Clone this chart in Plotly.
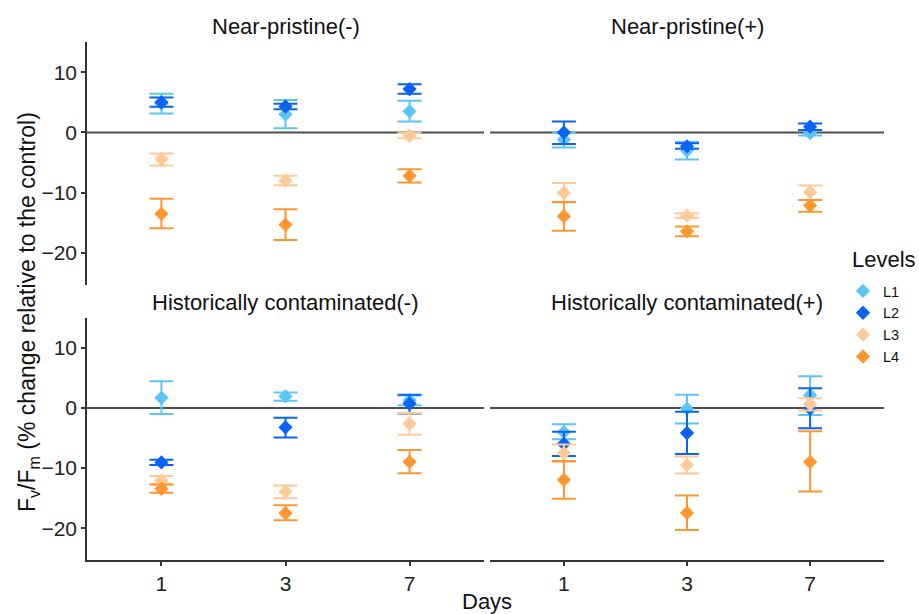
import plotly.graph_objects as go

W, H = 919, 614

days = ["1", "3", "7"]
levels = ["L1", "L2", "L3", "L4"]
colors = ["#5BC6F4", "#0B63F6", "#FFCA98", "#FF9630"]
panels = ["Near-pristine(-)", "Near-pristine(+)",
          "Historically contaminated(-)", "Historically contaminated(+)"]

# Near-pristine(-): mean, upper bar end, lower bar end per level
np_minus_mean = [[4.8, 3.0, 3.5], [5.0, 4.3, 7.2], [-4.4, -8.0, -0.55], [-13.5, -15.3, -7.2]]
np_minus_hi = [[6.4, 5.4, 5.25], [5.8, 4.75, 8.0], [-3.5, -7.2, -0.05], [-11.0, -12.75, -6.1]]
np_minus_lo = [[3.15, 0.7, 1.8], [4.25, 3.85, 6.4], [-5.5, -8.75, -0.95], [-15.9, -17.85, -8.3]]

# Near-pristine(+)
np_plus_mean = [[-1.2, -3.0, -0.1], [0.0, -2.3, 0.95], [-10.0, -13.8, -9.9], [-13.9, -16.4, -12.1]]
np_plus_hi = [[0.0, -1.6, 0.35], [1.8, -1.8, 1.5], [-8.4, -13.4, -8.8], [-11.55, -15.6, -11.2]]
np_plus_lo = [[-2.5, -4.5, -0.5], [-1.9, -2.7, 0.4], [-11.6, -14.2, -11.2], [-16.3, -17.2, -13.15]]

# Historically contaminated(-)
hc_minus_mean = [[1.7, 1.95, 1.3], [-9.05, -3.2, 0.75], [-12.05, -13.9, -2.6], [-13.45, -17.5, -8.95]]
hc_minus_hi = [[4.45, 2.6, 2.1], [-8.6, -1.6, 2.2], [-11.3, -12.9, -0.8], [-12.7, -16.2, -7.0]]
hc_minus_lo = [[-1.0, 1.2, 0.45], [-9.5, -4.9, -0.9], [-12.8, -15.0, -4.45], [-14.1, -18.7, -10.85]]

# Historically contaminated(+)
hc_plus_mean = [[-4.0, -0.1, 2.15], [-5.95, -4.15, -0.1], [-7.5, -9.5, 0.65], [-11.95, -17.45, -9.0]]
hc_plus_hi = [[-2.7, 2.2, 5.3], [-3.95, -0.6, 3.3], [-6.05, -8.05, 1.65], [-8.8, -14.55, -3.85]]
hc_plus_lo = [[-5.2, -2.55, -1.15], [-8.0, -7.65, -3.35], [-9.0, -10.9, -0.4], [-15.1, -20.3, -13.9]]

y_ticks = [-20, -10, 0, 10]
y_range = [-25.3, 15.0]

panel_data = [
    (np_minus_mean, np_minus_hi, np_minus_lo),
    (np_plus_mean, np_plus_hi, np_plus_lo),
    (hc_minus_mean, hc_minus_hi, hc_minus_lo),
    (hc_plus_mean, hc_plus_hi, hc_plus_lo),
]

FONT = "Liberation Sans, Arial, sans-serif"
AX = "#333333"

# panel geometry (pixels)
xdoms = [(87, 484), (490, 884)]
ydoms = [(42, 285), (318, 560)]


def px_x(a, b):
    return [a / W, b / W]


def px_y(a, b):
    return [1 - b / H, 1 - a / H]


fig = go.Figure()
layout = {}

for p, (means, his, los) in enumerate(panel_data):
    row, col = divmod(p, 2)
    idx = p + 1
    xa = "x" if idx == 1 else f"x{idx}"
    ya = "y" if idx == 1 else f"y{idx}"
    for li, lev in enumerate(levels):
        m = means[li]
        up = [h - v for h, v in zip(his[li], m)]
        dn = [v - l for v, l in zip(m, los[li])]
        fig.add_trace(go.Scatter(
            x=days, y=m, mode="markers", name=lev, legendgroup=lev,
            showlegend=(p == 0), xaxis=xa, yaxis=ya,
            marker=dict(symbol="diamond", size=11, color=colors[li]),
            error_y=dict(type="data", symmetric=False, array=up, arrayminus=dn,
                         color=colors[li], thickness=2, width=12),
        ))
    xkey = "xaxis" if idx == 1 else f"xaxis{idx}"
    ykey = "yaxis" if idx == 1 else f"yaxis{idx}"
    bottom = row == 1
    left = col == 0
    layout[xkey] = dict(
        domain=px_x(*xdoms[col]), anchor=ya, type="category",
        categoryorder="array", categoryarray=days, range=[-0.6, 2.6],
        showgrid=False, zeroline=False,
        showline=bottom, linecolor=AX, linewidth=1.5,
        ticks="outside" if bottom else "", tickcolor=AX, ticklen=4, tickwidth=1.5,
        showticklabels=bottom, tickfont=dict(family=FONT, size=21, color="#222"),
    )
    layout[ykey] = dict(
        domain=px_y(*ydoms[row]), anchor=xa, range=y_range,
        tickvals=y_ticks, showgrid=False, zeroline=False,
        showline=left, linecolor=AX, linewidth=1.5,
        ticks="outside" if left else "", tickcolor=AX, ticklen=4, tickwidth=1.5,
        showticklabels=left, tickfont=dict(family=FONT, size=21, color="#222"),
    )
    # zero reference line
    fig.add_shape(type="line", xref=f"{xa} domain", yref=ya,
                  x0=0, x1=1, y0=0, y1=0,
                  line=dict(color="#4d4d4d", width=2), layer="below")
    # panel title
    cx = (xdoms[col][0] + xdoms[col][1]) / 2 / W
    ty = 1 - (ydoms[row][0] - 16) / H
    fig.add_annotation(text=panels[p], x=cx, y=ty, xref="paper", yref="paper",
                       showarrow=False, xanchor="center", yanchor="middle",
                       font=dict(family=FONT, size=22, color="#111"))

fig.add_annotation(text="F<sub>v</sub>/F<sub>m</sub> (% change relative to the control)",
                   x=28 / W, y=1 - 312 / H, xref="paper", yref="paper",
                   textangle=-90, showarrow=False, xanchor="center", yanchor="middle",
                   font=dict(family=FONT, size=23, color="#111"))
fig.add_annotation(text="Days", x=487 / W, y=1 - 601 / H, xref="paper", yref="paper",
                   showarrow=False, xanchor="center", yanchor="middle",
                   font=dict(family=FONT, size=22, color="#111"))
# legend title
fig.add_annotation(text="Levels", x=850 / W, y=1 - 259 / H, xref="paper", yref="paper",
                   showarrow=False, xanchor="left", yanchor="middle",
                   font=dict(family=FONT, size=22, color="#111"))

fig.update_layout(
    width=W, height=H, margin=dict(l=0, r=0, t=0, b=0),
    paper_bgcolor="white", plot_bgcolor="white",
    legend=dict(x=843 / W, y=1 - 275 / H, xanchor="left", yanchor="top",
                font=dict(family=FONT, size=14.5, color="#111"),
                bgcolor="rgba(0,0,0,0)", tracegroupgap=0, itemwidth=30),
    **layout,
)

fig.write_html("out.html")
